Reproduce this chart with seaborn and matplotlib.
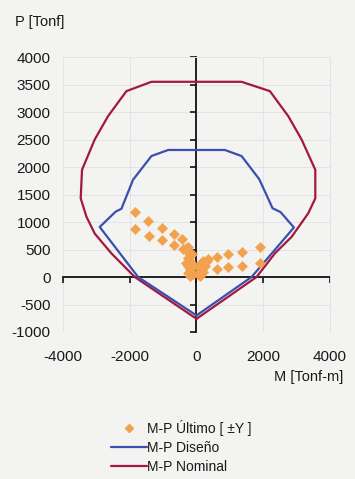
import matplotlib
matplotlib.use("Agg")
import matplotlib.pyplot as plt
import seaborn as sns
import pandas as pd
from matplotlib.lines import Line2D

# Interaction diagram M-P: nominal curve (closed polygon)
nominal_M = [0, 1800, 2350, 2850, 3350, 3560, 3560, 3150, 2750, 2200, 1350,
             -1350, -2100, -2650, -3050, -3430, -3470, -3300, -3050,
             -2550, -1850, 0]
nominal_P = [-760, 0, 430, 730, 1160, 1430, 1950, 2500, 2925, 3380, 3550,
             3550, 3380, 2925, 2500, 1950, 1430, 1100, 790,
             430, 0, -760]

# Design curve (reduced)
diseno_M = [0, 1650, 2920, 2520, 2280, 1880, 1350, 850,
            -850, -1350, -1900, -2250, -2420, -2900, -1750, 0]
diseno_P = [-700, 0, 900, 1180, 1250, 1780, 2200, 2310,
            2310, 2200, 1770, 1240, 1190, 910, 0, -700]

# Ultimate load combinations (±Y)
ultimo_M = [-1850, -1830, -1450, -1430, -1020, -1020, -680, -680, -420, -400,
            -250, -300, -250, -200, -250, -200, -150, -250, -200, -150,
            -250, -100, -200, -300, -120,
            50, 100, 150, 200, 100, 250, 150, 300, 50, 200, 100, 350,
            600, 600, 950, 950, 1370, 1370, 1890, 1890]
ultimo_P = [1180, 870, 1020, 750, 900, 670, 790, 580, 690, 510,
            550, 520, 450, 400, 350, 300, 250, 200, 150, 100,
            80, 50, 20, 250, 420,
            50, 150, 250, 300, 100, 200, 50, 300, 200, 100, 20, 320,
            370, 150, 410, 180, 460, 200, 550, 250]

x_ticks = [-4000, -2000, 0, 2000, 4000]
y_ticks = [-1000, -500, 0, 500, 1000, 1500, 2000, 2500, 3000, 3500, 4000]

lbl_ult = "M-P Último [ ±Y ]"
lbl_dis = "M-P Diseño"
lbl_nom = "M-P Nominal"

c_nom = "#a3183f"
c_dis = "#3b4fae"
c_ult = "#f2a24f"

sns.set_theme(style="white")
plt.rcParams["font.family"] = ["Liberation Sans", "DejaVu Sans"]
plt.rcParams["axes.unicode_minus"] = False
bg = "#f3f3f1"

nominal = pd.DataFrame({"M": nominal_M, "P": nominal_P})
diseno = pd.DataFrame({"M": diseno_M, "P": diseno_P})
puntos = pd.DataFrame({"M": ultimo_M, "P": ultimo_P})

fig = plt.figure(figsize=(3.55, 4.79), dpi=100, facecolor=bg)
rect = [0.1775, 0.3069, 0.752, 0.574]
ax = fig.add_axes(rect)
ax.set_facecolor(bg)

sns.lineplot(data=nominal, x="M", y="P", estimator=None, sort=False,
             color=c_nom, linewidth=1.6, ax=ax, zorder=2)
sns.lineplot(data=diseno, x="M", y="P", estimator=None, sort=False,
             color=c_dis, linewidth=1.6, ax=ax, zorder=3)
sns.scatterplot(data=puntos, x="M", y="P", marker="D", s=28, color=c_ult,
                edgecolor=c_ult, linewidth=0.3, ax=ax, zorder=4, legend=False)

ax.set_xlim(-4000, 4000)
ax.set_ylim(-1000, 4000)
ax.set_xticks(x_ticks)
ax.set_yticks(y_ticks)
ax.grid(True, color="#e3e3e3", linewidth=0.7)
ax.set_axisbelow(True)
ax.set_xlabel("")
ax.set_ylabel("")

# Axes crossing at the origin
for s in ("top", "right"):
    ax.spines[s].set_color("#e3e3e3")
    ax.spines[s].set_linewidth(0.7)
ax.spines["left"].set_position(("data", 0))
ax.spines["bottom"].set_position(("data", 0))
for s in ("left", "bottom"):
    ax.spines[s].set_color("#111111")
    ax.spines[s].set_linewidth(1.3)
    ax.spines[s].set_zorder(1)
ax.tick_params(direction="out", length=4, width=1.2, color="#111111",
               labelleft=False, labelbottom=False, left=True, bottom=True)

# Tick labels along the outer edges of the plot area
ax2 = fig.add_axes(rect, frameon=False, sharex=ax, sharey=ax)
ax2.patch.set_alpha(0)
ax2.tick_params(length=0, labelsize=11, labelcolor="#1a1a1a")
ax2.tick_params(axis="y", pad=9)
ax2.tick_params(axis="x", pad=13)
ax2.grid(False)
ax2.set_xlabel("")
ax2.set_ylabel("")

fig.text(15 / 355, 1 - 22 / 479, "P [Tonf]", ha="left", va="center",
         fontsize=10.5, color="#1a1a1a")
fig.text(343 / 355, 1 - 377 / 479, "M [Tonf-m]", ha="right", va="center",
         fontsize=10.5, color="#1a1a1a")

handles = [
    Line2D([], [], linestyle="none", marker="D", markersize=4,
           markerfacecolor=c_ult, markeredgecolor=c_ult),
    Line2D([], [], color=c_dis, linewidth=1.6),
    Line2D([], [], color=c_nom, linewidth=1.6),
]
fig.legend(handles, [lbl_ult, lbl_dis, lbl_nom], loc="center",
           bbox_to_anchor=(0.51, 1 - 447 / 479), frameon=False, fontsize=10,
           handlelength=2.6, handletextpad=0.0, labelspacing=0.35,
           borderpad=0.0, labelcolor="#1a1a1a")

fig.savefig("out.png", dpi=100, facecolor=bg)
